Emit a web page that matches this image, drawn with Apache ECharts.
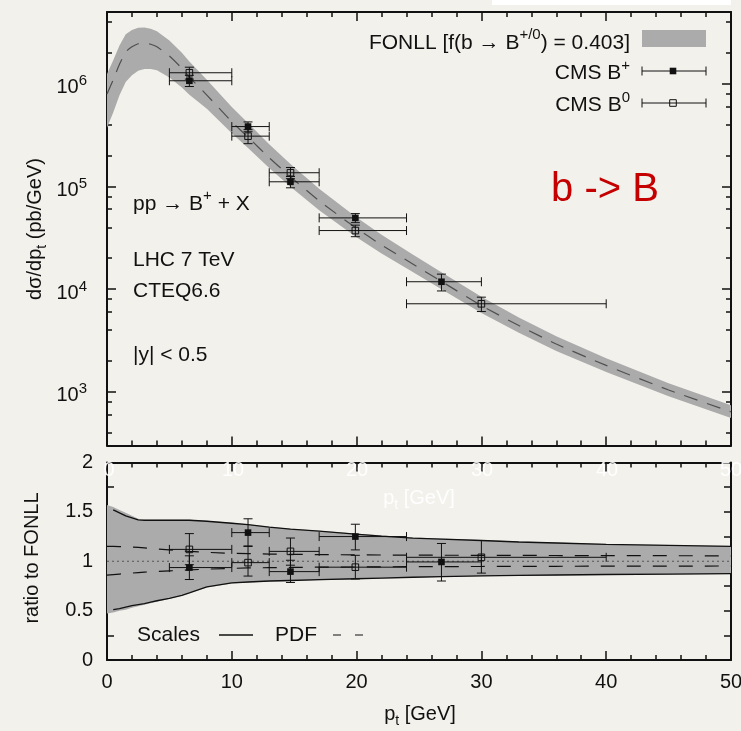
<!DOCTYPE html>
<html><head><meta charset="utf-8">
<script src="https://cdn.jsdelivr.net/npm/echarts@6/dist/echarts.min.js"></script>
<style>html,body{margin:0;padding:0;background:#f3f1ec;}#c{width:741px;height:731px;}</style>
</head><body><div id="c"></div>
<script>
// ================= DATA =================
// FONLL curve: transverse momentum grid (GeV)
const bandPt = [0,0.5,1,1.5,2,2.5,3,3.5,4,5,6,6.6,8,10,11.3,13,14.7,17,19.9,22,24.5,26.8,30,33,36,40,45,50];
// central FONLL cross section dσ/dpt (pb/GeV)
const fonllCentral = [7.94e5,1.096e6,1.549e6,2.042e6,2.291e6,2.455e6,2.483e6,2.427e6,2.291e6,1.862e6,1.413e6,1.161e6,7.76e5,4.27e5,3.02e5,1.905e5,1.245e5,7.24e4,3.98e4,2.69e4,1.758e4,1.189e4,6.92e3,4.42e3,2.92e3,1.807e3,1.042e3,638];
// total uncertainty band (pb/GeV)
const fonllHigh = [1.247e6,1.698e6,2.355e6,3.041e6,3.342e6,3.508e6,3.524e6,3.443e6,3.251e6,2.642e6,2.004e6,1.648e6,1.094e6,5.93e5,4.15e5,2.57e5,1.656e5,9.48e4,5.09e4,3.39e4,2.18e4,1.462e4,8.41e3,5.30e3,3.48e3,2.12e3,1.213e3,738];
const fonllLow = [3.73e5,5.26e5,7.74e5,1.042e6,1.213e6,1.337e6,1.390e6,1.396e6,1.352e6,1.153e6,9.18e5,7.83e5,5.70e5,3.30e5,2.37e5,1.514e5,9.95e4,5.85e4,3.26e4,2.22e4,1.466e4,9.98e3,5.86e3,3.77e3,2.50e3,1.556e3,904,556];

// ratio panel bands
const ratioBandHigh = [1.57,1.55,1.52,1.49,1.46,1.43,1.42,1.42,1.42,1.42,1.42,1.42,1.41,1.39,1.375,1.35,1.33,1.31,1.28,1.26,1.24,1.23,1.215,1.20,1.19,1.175,1.165,1.155];
const ratioBandLow = [0.47,0.48,0.50,0.51,0.53,0.545,0.56,0.575,0.59,0.62,0.65,0.675,0.735,0.775,0.785,0.795,0.80,0.808,0.818,0.825,0.833,0.84,0.848,0.853,0.857,0.862,0.866,0.87];
const scalesHigh = [1.54,1.52,1.49,1.46,1.44,1.42,1.415,1.415,1.415,1.415,1.415,1.415,1.405,1.385,1.37,1.345,1.325,1.305,1.275,1.255,1.235,1.225,1.21,1.195,1.185,1.17,1.16,1.15];
const scalesLow = [0.50,0.51,0.52,0.535,0.55,0.56,0.57,0.585,0.60,0.625,0.655,0.68,0.74,0.78,0.79,0.80,0.805,0.813,0.823,0.83,0.838,0.845,0.852,0.857,0.861,0.866,0.87,0.874];
const pdfHigh = [1.15,1.15,1.148,1.146,1.144,1.14,1.135,1.13,1.125,1.115,1.105,1.10,1.09,1.08,1.077,1.073,1.07,1.067,1.065,1.063,1.062,1.061,1.06,1.059,1.058,1.057,1.056,1.055];
const pdfLow = [0.86,0.865,0.87,0.875,0.88,0.885,0.89,0.893,0.896,0.902,0.908,0.912,0.92,0.928,0.932,0.935,0.937,0.94,0.942,0.944,0.945,0.946,0.947,0.948,0.949,0.95,0.951,0.952];
const refPt = [0,50];
const refRatio = [1,1];

// CMS B+ measurement
const bpPt = [6.6,11.3,14.7,19.9,26.8];
const bpPtLow = [5,10,13,17,24];
const bpPtHigh = [10,13,17,24,30];
const bpXsec = [1.07e6,3.83e5,1.11e5,4.94e4,1.18e4];
const bpXsecLow = [0.94e6,3.41e5,0.97e5,4.44e4,0.96e4];
const bpXsecHigh = [1.21e6,4.25e5,1.25e5,5.44e4,1.40e4];
const bpRatio = [0.936,1.29,0.895,1.25,0.993];
const bpRatioLow = [0.815,1.15,0.785,1.115,0.80];
const bpRatioHigh = [1.055,1.43,1.01,1.375,1.18];

// CMS B0 measurement
const b0Pt = [6.6,11.3,14.7,19.9,30.0];
const b0PtLow = [5,10,13,17,24];
const b0PtHigh = [10,13,17,24,40];
const b0Xsec = [1.28e6,3.09e5,1.36e5,3.72e4,7.2e3];
const b0XsecLow = [1.11e6,2.61e5,1.19e5,3.24e4,6.05e3];
const b0XsecHigh = [1.45e6,3.57e5,1.53e5,4.20e4,8.35e3];
const b0Ratio = [1.12,0.986,1.10,0.94,1.04];
const b0RatioLow = [0.965,0.85,0.96,0.82,0.88];
const b0RatioHigh = [1.28,1.155,1.235,1.06,1.21];

// axis ticks
const xTicks = [0,10,20,30,40,50];
const yDecades = [3,4,5,6];              // 10^3 ... 10^6
const yMinorMantissa = [2,4,6,8];
const yRange = [300, 5e6];
const ratioTicks = [0,0.5,1,1.5,2];
const ratioMinorTicks = [0,0.25,0.5,0.75,1,1.25,1.5,1.75,2];

// ================= CHART =================
const F = 'Liberation Sans';
const INK = '#111111';
const BAND = '#ababab';
const lg = v => Math.log10(v);
const LMIN = lg(yRange[0]), LMAX = lg(yRange[1]);
const yMinorLog = [];
for (let d = 2; d <= 6; d++) for (const m of yMinorMantissa) {
  const v = m * Math.pow(10, d);
  if (v >= yRange[0] && v <= yRange[1]) yMinorLog.push(lg(v));
}

function bandItem(xs, lo, hi, tf) {
  return function (params, api) {
    const pts = [];
    for (let i = 0; i < xs.length; i++) pts.push(api.coord([xs[i], tf(hi[i])]));
    for (let i = xs.length - 1; i >= 0; i--) pts.push(api.coord([xs[i], tf(lo[i])]));
    return {type: 'polygon', shape: {points: pts}, style: {fill: BAND}};
  };
}
function errItem(filled) {
  return function (params, api) {
    const x = api.value(0), y = api.value(1);
    const c = api.coord([x, y]);
    const l = api.coord([api.value(2), y])[0], r = api.coord([api.value(3), y])[0];
    const b = api.coord([x, api.value(4)])[1], t = api.coord([x, api.value(5)])[1];
    const st = {stroke: INK, lineWidth: 1};
    const C = 4.5, S = 3.3;
    return {type: 'group', children: [
      {type: 'line', shape: {x1: l, y1: c[1], x2: r, y2: c[1]}, style: st},
      {type: 'line', shape: {x1: l, y1: c[1] - C, x2: l, y2: c[1] + C}, style: st},
      {type: 'line', shape: {x1: r, y1: c[1] - C, x2: r, y2: c[1] + C}, style: st},
      {type: 'line', shape: {x1: c[0], y1: b, x2: c[0], y2: t}, style: st},
      {type: 'line', shape: {x1: c[0] - C, y1: b, x2: c[0] + C, y2: b}, style: st},
      {type: 'line', shape: {x1: c[0] - C, y1: t, x2: c[0] + C, y2: t}, style: st},
      {type: 'rect', shape: {x: c[0] - S, y: c[1] - S, width: 2 * S, height: 2 * S},
        style: filled ? {fill: INK} : {fill: 'none', stroke: INK, lineWidth: 1}}
    ]};
  };
}
function errData(xs, xl, xh, ys, yl, yh, tf) {
  return xs.map((x, i) => [x, tf(ys[i]), xl[i], xh[i], tf(yl[i]), tf(yh[i])]);
}
const id = v => v;
const pairs = (xs, ys, tf) => xs.map((x, i) => [x, tf(ys[i])]);

function xAx(grid, pos, labels) {
  return {
    type: 'value', gridIndex: grid, position: pos, min: 0, max: 50, interval: 10,
    axisLine: {show: true, onZero: false, lineStyle: {color: INK, width: 2}},
    axisTick: {show: true, inside: true, length: 9, lineStyle: {color: INK, width: 1.5}},
    minorTick: {show: true, splitNumber: 5, length: 5, lineStyle: {color: INK, width: 1.5}},
    splitLine: {show: false}, minorSplitLine: {show: false},
    axisLabel: labels ? {show: true, fontFamily: F, fontSize: 20, color: INK, margin: 12} : {show: false}
  };
}
function yLogAx(pos, major) {
  return {
    type: 'value', gridIndex: 0, position: pos, min: LMIN, max: LMAX,
    axisLine: {show: major, onZero: false, lineStyle: {color: INK, width: 2}},
    axisTick: {show: true, inside: true, length: major ? 9 : 5, customValues: major ? yDecades : yMinorLog,
      lineStyle: {color: INK, width: 1.5}},
    splitLine: {show: false},
    axisLabel: (major && pos === 'left') ? {
      show: true, customValues: yDecades, margin: 20,
      formatter: v => '{b|10}{s|' + Math.round(v) + '}',
      rich: {
        b: {fontFamily: F, fontSize: 20, lineHeight: 20, color: INK, padding: [4, 0, 0, 0], verticalAlign: 'top'},
        s: {fontFamily: F, fontSize: 15, lineHeight: 15, color: INK, verticalAlign: 'top'}
      }
    } : {show: false}
  };
}
function yRatioAx(pos) {
  return {
    type: 'value', gridIndex: 1, position: pos, min: 0, max: 2, interval: 0.5,
    axisLine: {show: true, onZero: false, lineStyle: {color: INK, width: 2}},
    axisTick: {show: true, inside: true, length: 7, customValues: ratioMinorTicks, lineStyle: {color: INK, width: 1.5}},
    splitLine: {show: false},
    axisLabel: pos === 'left' ? {show: true, customValues: ratioTicks, fontFamily: F, fontSize: 20, color: INK, margin: 14,
      formatter: v => String(v)} : {show: false}
  };
}

const richN = {
  n: {fontFamily: F, fontSize: 21, lineHeight: 21, color: INK, padding: [5, 0, 0, 0], verticalAlign: 'top'},
  s: {fontFamily: F, fontSize: 15, lineHeight: 15, color: INK, verticalAlign: 'top'}
};
const richSub = {
  m: {fontFamily: F, fontSize: 20, lineHeight: 20, color: INK, verticalAlign: 'top'},
  t: {fontFamily: F, fontSize: 14, lineHeight: 14, color: INK, padding: [10, 0, 0, 0], verticalAlign: 'top'}
};
function txt(x, y, text, opts) {
  opts = opts || {};
  return {type: 'text', x: x, y: y, rotation: opts.rot || 0, z: 100, silent: true,
    style: Object.assign({text: text, fontFamily: F, fontSize: opts.size || 21, fill: opts.fill || INK,
      align: opts.align || 'left', verticalAlign: 'middle'}, opts.rich ? {rich: opts.rich} : {})};
}
function ghost(x, y, text, rich) {
  const o = {fill: 'rgba(255,255,255,0.92)', align: 'center', size: 20};
  if (rich) o.rich = rich;
  return txt(x, y, text, o);
}
const ghostRich = {
  m: Object.assign({}, richSub.m, {color: 'rgba(255,255,255,0.92)'}),
  t: Object.assign({}, richSub.t, {color: 'rgba(255,255,255,0.92)'})
};

const chart = echarts.init(document.getElementById('c'), null, {renderer: 'canvas'});
chart.setOption({
  backgroundColor: '#f3f1ec',
  animation: false,
  grid: [
    {left: 107, right: 10, top: 12, height: 433.5, containLabel: false, outerBoundsMode: 'none'},
    {left: 107, right: 10, top: 462.5, height: 197.5, containLabel: false, outerBoundsMode: 'none'}
  ],
  xAxis: [xAx(0, 'bottom', false), xAx(0, 'top', false), xAx(1, 'bottom', true), xAx(1, 'top', false)],
  yAxis: [yLogAx('left', true), yLogAx('left', false), yLogAx('right', true), yLogAx('right', false),
    yRatioAx('left'), yRatioAx('right')],
  series: [
    {type: 'custom', xAxisIndex: 0, yAxisIndex: 0, z: 1, silent: true, clip: true,
      data: [[bandPt[0], lg(fonllCentral[0])]], renderItem: bandItem(bandPt, fonllLow, fonllHigh, lg)},
    {type: 'line', xAxisIndex: 0, yAxisIndex: 0, z: 2, silent: true, symbol: 'none', smooth: 0.2,
      data: pairs(bandPt, fonllCentral, lg), lineStyle: {color: '#505050', width: 1.2, type: [14, 10]}},
    {type: 'custom', xAxisIndex: 0, yAxisIndex: 0, z: 5, silent: true,
      data: errData(bpPt, bpPtLow, bpPtHigh, bpXsec, bpXsecLow, bpXsecHigh, lg), renderItem: errItem(true)},
    {type: 'custom', xAxisIndex: 0, yAxisIndex: 0, z: 5, silent: true,
      data: errData(b0Pt, b0PtLow, b0PtHigh, b0Xsec, b0XsecLow, b0XsecHigh, lg), renderItem: errItem(false)},

    {type: 'custom', xAxisIndex: 2, yAxisIndex: 4, z: 1, silent: true, clip: true,
      data: [[bandPt[0], 1]], renderItem: bandItem(bandPt, ratioBandLow, ratioBandHigh, id)},
    {type: 'line', xAxisIndex: 2, yAxisIndex: 4, z: 2, silent: true, symbol: 'none',
      data: pairs(bandPt.slice(1), scalesHigh.slice(1), id), lineStyle: {color: INK, width: 1.3}},
    {type: 'line', xAxisIndex: 2, yAxisIndex: 4, z: 2, silent: true, symbol: 'none',
      data: pairs(bandPt.slice(1), scalesLow.slice(1), id), lineStyle: {color: INK, width: 1.3}},
    {type: 'line', xAxisIndex: 2, yAxisIndex: 4, z: 2, silent: true, symbol: 'none',
      data: pairs(bandPt, pdfHigh, id), lineStyle: {color: INK, width: 1.2, type: [14, 12]}},
    {type: 'line', xAxisIndex: 2, yAxisIndex: 4, z: 2, silent: true, symbol: 'none',
      data: pairs(bandPt, pdfLow, id), lineStyle: {color: INK, width: 1.2, type: [14, 12]}},
    {type: 'line', xAxisIndex: 2, yAxisIndex: 4, z: 2, silent: true, symbol: 'none',
      data: pairs(refPt, refRatio, id), lineStyle: {color: '#555', width: 1, type: [2, 3]}},
    {type: 'custom', xAxisIndex: 2, yAxisIndex: 4, z: 5, silent: true,
      data: errData(bpPt, bpPtLow, bpPtHigh, bpRatio, bpRatioLow, bpRatioHigh, id), renderItem: errItem(true)},
    {type: 'custom', xAxisIndex: 2, yAxisIndex: 4, z: 5, silent: true,
      data: errData(b0Pt, b0PtLow, b0PtHigh, b0Ratio, b0RatioLow, b0RatioHigh, id), renderItem: errItem(false)}
  ],
  graphic: [
    {type: 'rect', shape: {x: 492, y: 0, width: 239, height: 5}, style: {fill: '#ffffff'}, silent: true, z: 100},
    // axis titles
    txt(35, 229, '{m|dσ/dp}{t|t}{m| (pb/GeV)}', {rot: Math.PI / 2, align: 'center', rich: richSub}),
    txt(32, 558, 'ratio to FONLL', {rot: Math.PI / 2, align: 'center', size: 20}),
    txt(420, 714, '{m|p}{t|t}{m| [GeV]}', {align: 'center', rich: richSub}),
    // annotations
    txt(133, 199, '{n|pp → B}{s|+}{n| + X}', {rich: richN}),
    txt(133, 260, 'LHC 7 TeV'),
    txt(133, 291, 'CTEQ6.6'),
    txt(133, 355, '|y| < 0.5'),
    txt(605, 190, 'b -> B', {align: 'center', size: 40, fill: '#c40000', rich: {r: {fontFamily: 'DejaVu Sans', fontSize: 40, color: '#c40000'}}}),
    // legend
    txt(630, 38, '{n|FONLL [f(b → B}{s|+/0}{n|) = 0.403]}', {align: 'right', rich: richN}),
    {type: 'rect', shape: {x: 642, y: 30, width: 64, height: 17}, style: {fill: BAND}, silent: true, z: 100},
    txt(630, 68.5, '{n|CMS B}{s|+}', {align: 'right', rich: richN}),
    txt(630, 100.5, '{n|CMS B}{s|0}', {align: 'right', rich: richN}),
    {type: 'group', z: 100, silent: true, children: [
      {type: 'line', shape: {x1: 642, y1: 71, x2: 706, y2: 71}, style: {stroke: INK, lineWidth: 1}},
      {type: 'line', shape: {x1: 642, y1: 66.5, x2: 642, y2: 75.5}, style: {stroke: INK, lineWidth: 1}},
      {type: 'line', shape: {x1: 706, y1: 66.5, x2: 706, y2: 75.5}, style: {stroke: INK, lineWidth: 1}},
      {type: 'rect', shape: {x: 669.7, y: 67.7, width: 6.6, height: 6.6}, style: {fill: INK}},
      {type: 'line', shape: {x1: 642, y1: 103, x2: 706, y2: 103}, style: {stroke: INK, lineWidth: 1}},
      {type: 'line', shape: {x1: 642, y1: 98.5, x2: 642, y2: 107.5}, style: {stroke: INK, lineWidth: 1}},
      {type: 'line', shape: {x1: 706, y1: 98.5, x2: 706, y2: 107.5}, style: {stroke: INK, lineWidth: 1}},
      {type: 'rect', shape: {x: 669.7, y: 99.7, width: 6.6, height: 6.6}, style: {fill: 'none', stroke: INK, lineWidth: 1}},
      {type: 'line', shape: {x1: 219, y1: 635, x2: 253, y2: 635}, style: {stroke: INK, lineWidth: 1.3}},
      {type: 'line', shape: {x1: 333, y1: 635, x2: 363, y2: 635}, style: {stroke: INK, lineWidth: 1.2, lineDash: [8, 14]}}
    ]},
    txt(137, 635, 'Scales'),
    txt(275, 635, 'PDF'),
    // faint white ghost labels in the ratio panel
    ghost(109, 470, '0'), ghost(233, 470, '10'), ghost(357, 470, '20'), ghost(482, 470, '30'),
    ghost(607, 470, '40'), ghost(731, 470, '50'),
    ghost(419, 498, '{m|p}{t|t}{m| [GeV]}', ghostRich)
  ]
});
</script></body></html>
